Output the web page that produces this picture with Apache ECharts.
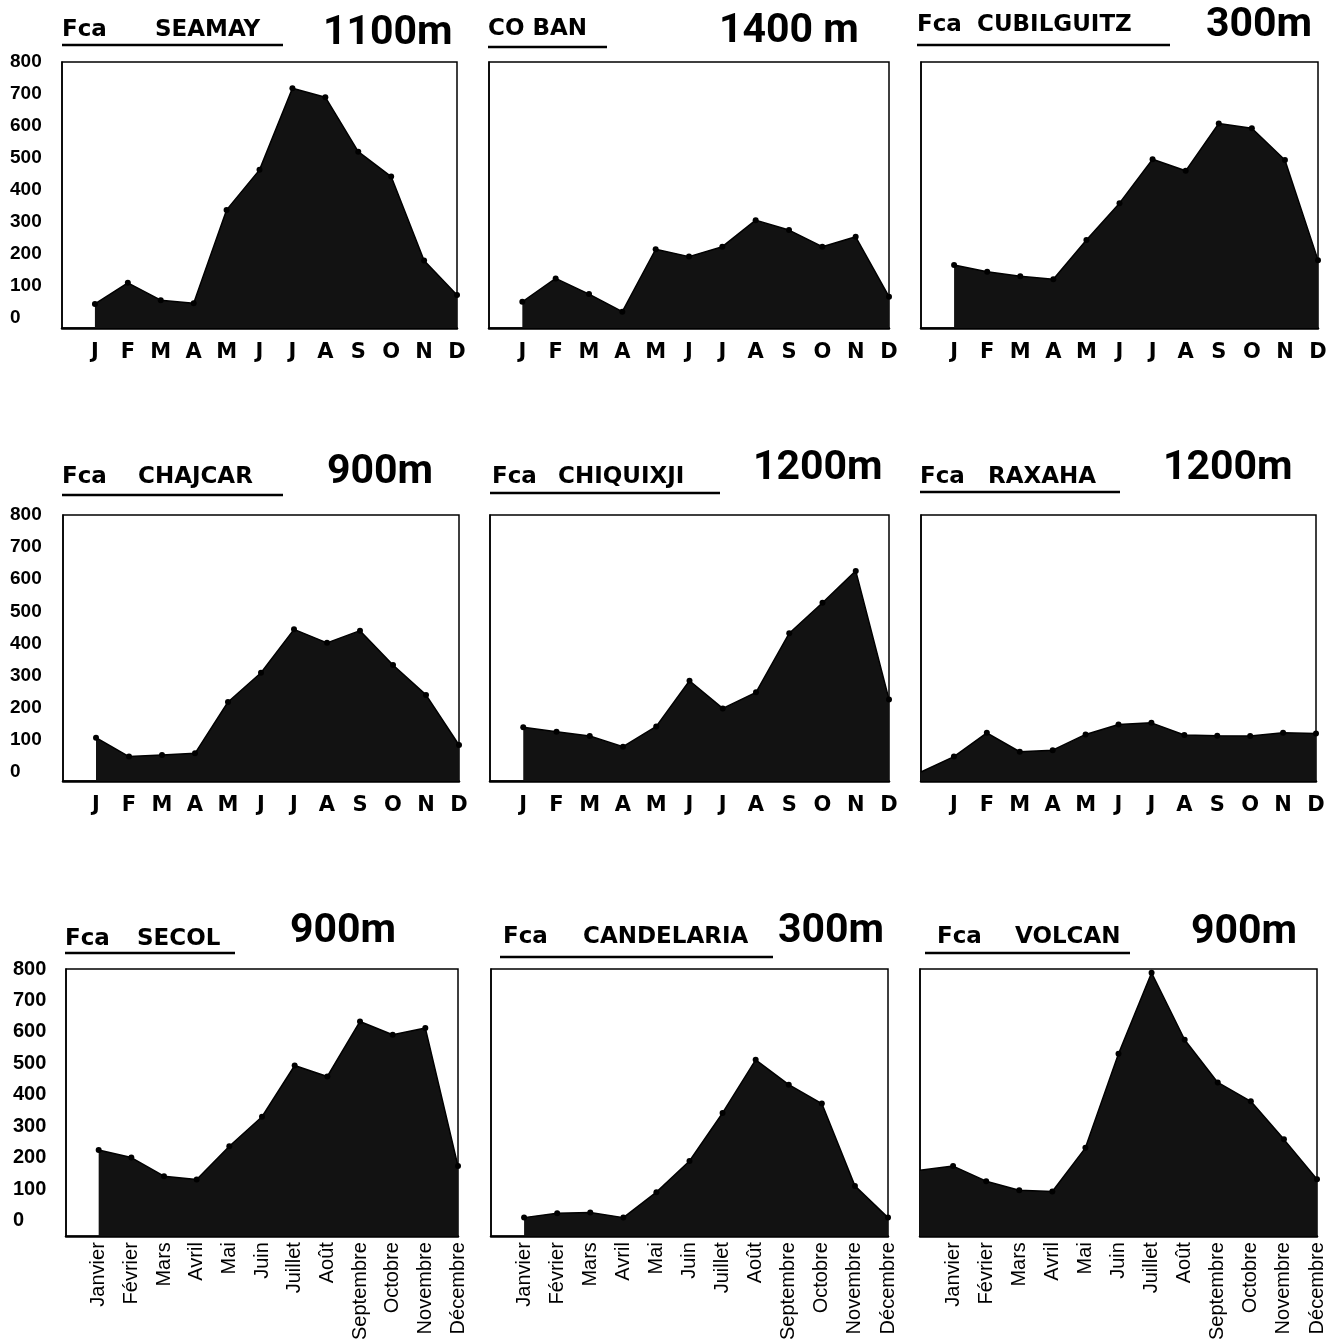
<!DOCTYPE html>
<html>
<head>
<meta charset="utf-8">
<title>Fincas - pluies mensuelles</title>
<script src="https://cdn.jsdelivr.net/npm/echarts@6/dist/echarts.min.js"></script>
<style>
  html, body { margin: 0; padding: 0; background: #fff; }
  #chart { width: 1343px; height: 1343px; }
</style>
</head>
<body>
<div id="chart"></div>
<script>
// mois
const monthLetters = ['J', 'F', 'M', 'A', 'M', 'J', 'J', 'A', 'S', 'O', 'N', 'D'];
const monthNames = ['Janvier', 'Février', 'Mars', 'Avril', 'Mai', 'Juin', 'Juillet', 'Août', 'Septembre', 'Octobre', 'Novembre', 'Décembre'];
const yTicks = [0, 100, 200, 300, 400, 500, 600, 700, 800];

// valeurs mensuelles
const seamay     = [44, 110, 56, 46, 338, 463, 718, 690, 520, 442, 180, 72];
const coban      = [51, 124, 75, 20, 215, 192, 223, 306, 275, 223, 254, 67];
const cubilguitz = [166, 145, 131, 121, 244, 359, 496, 460, 608, 593, 494, 181];
const chajcar    = [107, 48, 53, 58, 218, 309, 444, 402, 440, 333, 240, 84];
const chiquixji  = [139, 125, 112, 79, 142, 284, 198, 248, 432, 527, 626, 226];
const raxaha     = [48, 122, 63, 68, 117, 148, 153, 115, 113, 112, 122, 120];
const secol      = [224, 200, 141, 130, 236, 330, 493, 458, 633, 591, 612, 173];
const candelaria = [9, 23, 25, 9, 90, 189, 342, 511, 432, 372, 110, 9];
const volcan     = [173, 125, 96, 92, 231, 530, 788, 575, 439, 379, 258, 131];
// valeur au bord gauche (avant janvier) quand la courbe commence au bord
const raxahaLead = 0;
const volcanLead = 160;

// mise en page des lignes
const rowTop = [62, 515, 969];
const rowHeight = [266, 266, 268];
const rowMin = [-31, -28, -50];

const panels = [
  {fca: 'Fca', name: 'SEAMAY', alt: '1100m', values: seamay, lead: null, row: 0, left: 62, width: 395,
   fcaX: 62, nameX: 155, ty: 30, altX: 323, ay: 34, ul: [62, 283, 45]},
  {fca: '', name: 'CO BAN', alt: '1400 m', values: coban, lead: null, row: 0, left: 489, width: 400,
   fcaX: 488, nameX: 488, ty: 29, altX: 719, ay: 32, ul: [488, 607, 47]},
  {fca: 'Fca', name: 'CUBILGUITZ', alt: '300m', values: cubilguitz, lead: null, row: 0, left: 921, width: 397,
   fcaX: 917, nameX: 977, ty: 25, altX: 1206, ay: 26, ul: [917, 1170, 45]},
  {fca: 'Fca', name: 'CHAJCAR', alt: '900m', values: chajcar, lead: null, row: 1, left: 63, width: 396,
   fcaX: 62, nameX: 138, ty: 477, altX: 327, ay: 473, ul: [62, 283, 495]},
  {fca: 'Fca', name: 'CHIQUIXJI', alt: '1200m', values: chiquixji, lead: null, row: 1, left: 490, width: 399,
   fcaX: 492, nameX: 558, ty: 477, altX: 753, ay: 469, ul: [490, 720, 493]},
  {fca: 'Fca', name: 'RAXAHA', alt: '1200m', values: raxaha, lead: raxahaLead, row: 1, left: 921, width: 395,
   fcaX: 920, nameX: 988, ty: 477, altX: 1163, ay: 469, ul: [920, 1120, 492]},
  {fca: 'Fca', name: 'SECOL', alt: '900m', values: secol, lead: null, row: 2, left: 66, width: 392,
   fcaX: 65, nameX: 137, ty: 939, altX: 290, ay: 932, ul: [65, 235, 953]},
  {fca: 'Fca', name: 'CANDELARIA', alt: '300m', values: candelaria, lead: null, row: 2, left: 491, width: 397,
   fcaX: 503, nameX: 583, ty: 937, altX: 778, ay: 932, ul: [500, 773, 957]},
  {fca: 'Fca', name: 'VOLCAN', alt: '900m', values: volcan, lead: volcanLead, row: 2, left: 920, width: 397,
   fcaX: 937, nameX: 1015, ty: 937, altX: 1191, ay: 933, ul: [925, 1130, 953]}
];

const grids = [], xAxes = [], yAxes = [], series = [], graphics = [];

panels.forEach((p, i) => {
  const firstCol = p.left < 200;
  const lastRow = p.row === 2;

  grids.push({
    left: p.left, top: rowTop[p.row], width: p.width, height: rowHeight[p.row],
    show: true, borderColor: '#000', borderWidth: 1.5, backgroundColor: 'transparent'
  });

  xAxes.push({
    type: 'category', gridIndex: i, boundaryGap: false,
    data: [''].concat(lastRow ? monthNames : monthLetters),
    axisLine: {onZero: false, lineStyle: {color: '#000', width: 2.5}},
    axisTick: {show: false},
    axisLabel: lastRow
      ? {interval: 0, rotate: 90, margin: 6, color: '#000', fontFamily: 'Liberation Sans', fontSize: 20}
      : {interval: 0, margin: 14, color: '#000', fontFamily: 'DejaVu Sans', fontWeight: 'bold', fontSize: 21}
  });

  yAxes.push({
    type: 'value', gridIndex: i, min: rowMin[p.row], max: 800,
    axisLine: {show: true, lineStyle: {color: '#000', width: 1.5}},
    axisTick: {show: false},
    splitLine: {show: false},
    axisLabel: {
      show: firstCol, customValues: yTicks, align: 'left', margin: p.left - (lastRow ? 13 : 10),
      color: '#000', fontFamily: 'Liberation Sans', fontWeight: 'bold', fontSize: lastRow ? 20 : 19
    }
  });

  const data = [p.lead].concat(p.values).map((v, k) =>
    k === 0 ? {value: v, symbol: 'none'} : v);

  series.push({
    type: 'line', xAxisIndex: i, yAxisIndex: i, data: data,
    connectNulls: false, symbol: 'circle', symbolSize: 6,
    lineStyle: {color: '#000', width: 1.5},
    itemStyle: {color: '#000'},
    areaStyle: {color: '#121212', opacity: 1, origin: 'start'},
    animation: false, silent: true
  });

  // titres
  if (p.fca) {
    graphics.push({type: 'text', x: p.fcaX, y: p.ty,
      style: {text: p.fca, font: 'bold 23px "DejaVu Sans"', fill: '#000', verticalAlign: 'middle'}});
  }
  graphics.push({type: 'text', x: p.nameX, y: p.ty,
    style: {text: p.name, font: 'bold 23px "DejaVu Sans"', fill: '#000', verticalAlign: 'middle'}});
  graphics.push({type: 'line', shape: {x1: p.ul[0], y1: p.ul[2], x2: p.ul[1], y2: p.ul[2]},
    style: {stroke: '#000', lineWidth: 2.5}});
  graphics.push({type: 'text', x: p.altX, y: p.ay,
    style: {text: p.alt, font: 'bold 41px Roboto', fill: '#000', verticalAlign: 'middle'}});
});

const chart = echarts.init(document.getElementById('chart'));
chart.setOption({
  backgroundColor: '#fff',
  animation: false,
  grid: grids,
  xAxis: xAxes,
  yAxis: yAxes,
  series: series,
  graphic: graphics
});
</script>
</body>
</html>
